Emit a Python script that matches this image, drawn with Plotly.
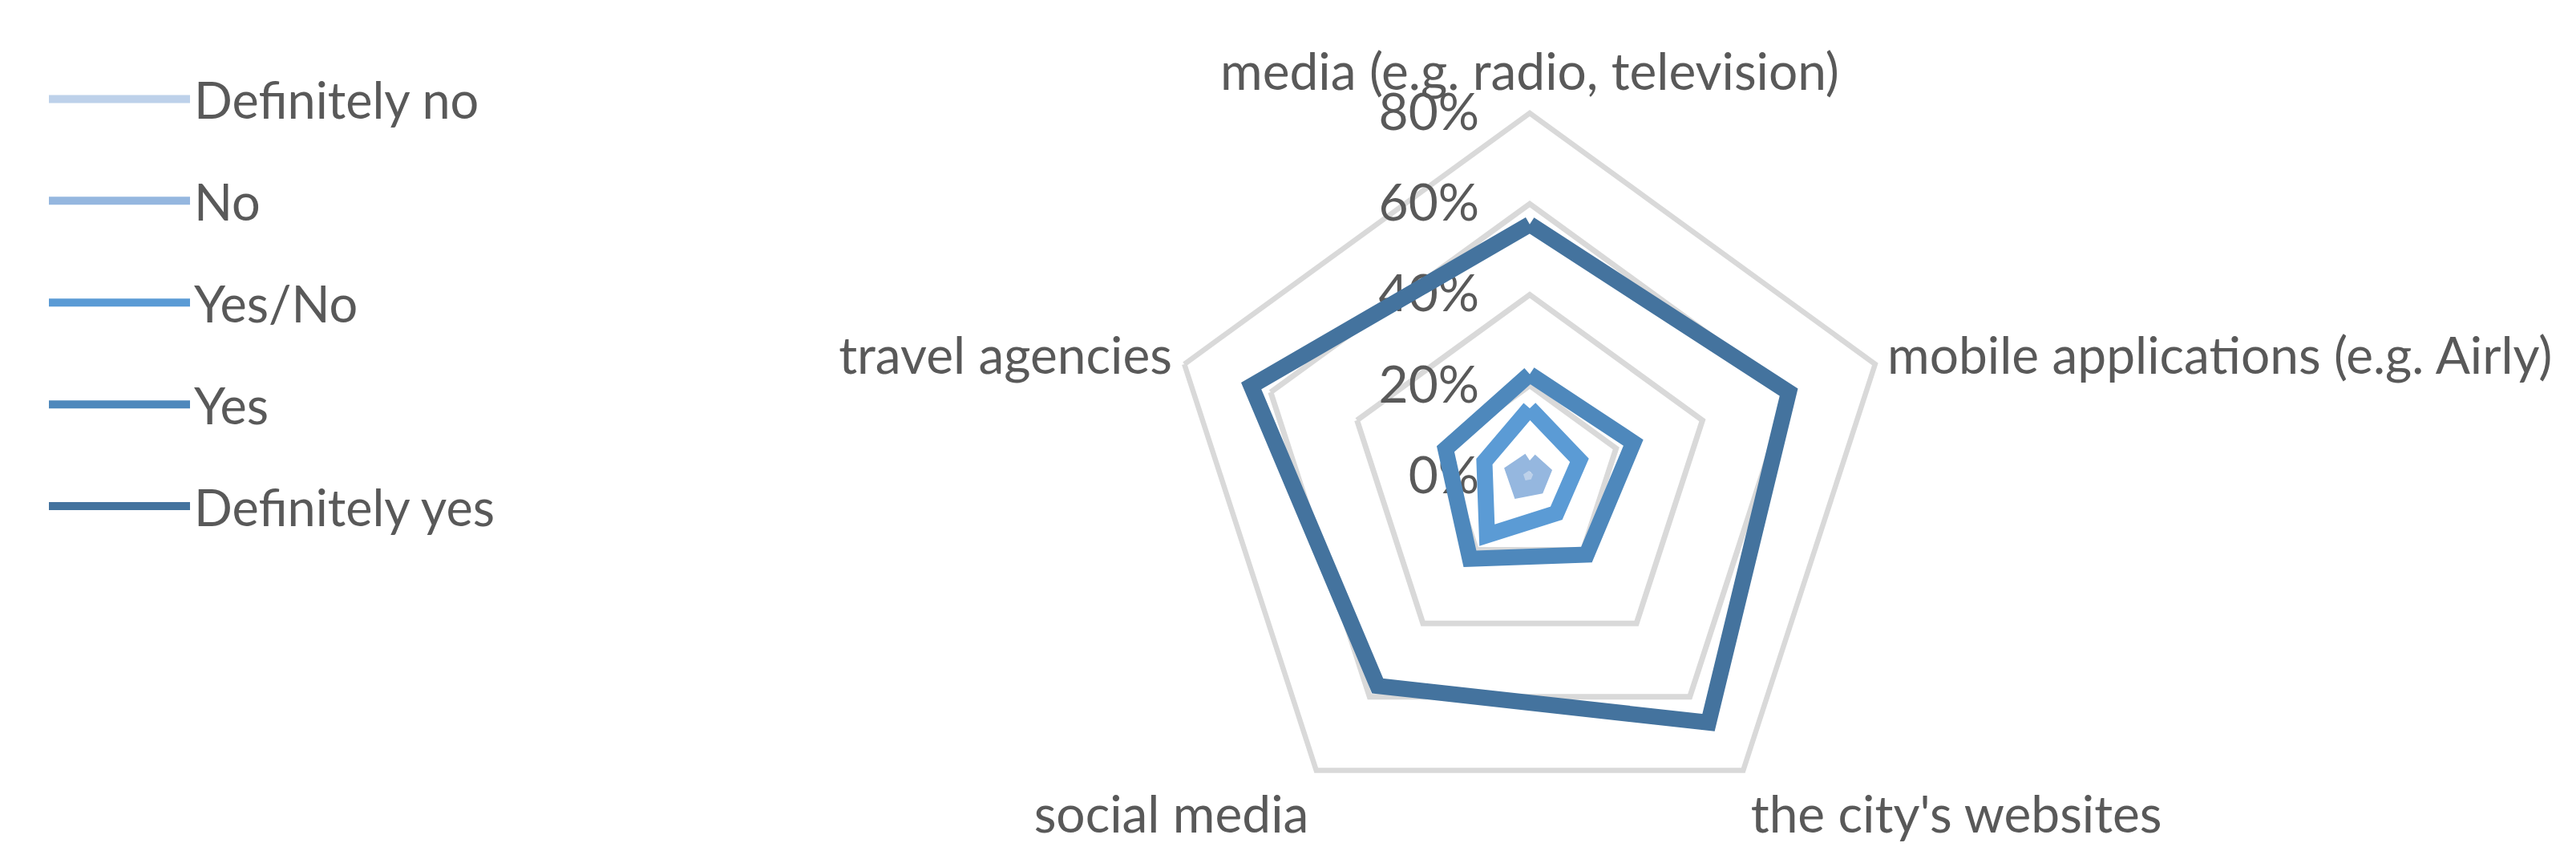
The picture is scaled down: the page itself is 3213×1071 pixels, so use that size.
import plotly.graph_objects as go

categories = ["media (e.g. radio, television)", "mobile applications (e.g. Airly)",
              "the city's websites", "social media", "travel agencies"]
series_names = ["Definitely no", "No", "Yes/No", "Yes", "Definitely yes"]
definitely_no = [0.6, 0.4, 0.5, 0.6, 0.5]
no = [3.5, 3.0, 2.7, 3.6, 3.7]
yes_no = [15.0, 11.5, 10.0, 16.0, 10.5]
yes = [22.5, 24.0, 21.3, 22.4, 19.5]
definitely_yes = [55.5, 60.0, 67.0, 57.0, 64.5]
radial_ticks = [0, 20, 40, 60, 80]
radial_tick_labels = ["0%", "20%", "40%", "60%", "80%"]

colors = ["#BDD1EA", "#95B7DF", "#5B9BD5", "#4E88BC", "#44739E"]
values = [definitely_no, no, yes_no, yes, definitely_yes]

FONT = "Lato"
TXT = "#595959"
GRID = "#D9D9D9"

fig = go.Figure()
for name, vals, col in zip(series_names, values, colors):
    fig.add_trace(go.Scatterpolar(
        r=list(vals) + [vals[0]],
        theta=categories + [categories[0]],
        mode="lines",
        name=name,
        legendgroup=name,
        line=dict(color=col, width=20),
    ))

W, H = 3213, 1071
cx, cy, R = 1900, 586, 453
fig.update_layout(
    width=W, height=H,
    margin=dict(l=0, r=0, t=0, b=0),
    paper_bgcolor="white",
    plot_bgcolor="white",
    font=dict(family=FONT, color=TXT, size=64),
    polar=dict(
        domain=dict(x=[(cx - R) / W, (cx + R) / W], y=[(H - cy - R) / H, (H - cy + R) / H]),
        bgcolor="white",
        gridshape="linear",
        radialaxis=dict(
            range=[0, 80], tickvals=radial_ticks, ticktext=radial_tick_labels,
            angle=90, side="counterclockwise", tickangle=90,
            showline=False, ticks="outside", ticklen=40, tickcolor="rgba(0,0,0,0)",
            showgrid=True, gridcolor=GRID, gridwidth=6.5,
            tickfont=dict(family=FONT, size=64, color=TXT), layer="below traces",
        ),
        angularaxis=dict(
            rotation=90, direction="clockwise",
            showgrid=False, showline=True, linecolor=GRID, linewidth=6.5,
            ticks="", tickfont=dict(family=FONT, size=64, color=TXT), layer="below traces",
        ),
    ),
    legend=dict(
        x=48 / W, y=1 - 68 / H, xanchor="left", yanchor="top",
        font=dict(family=FONT, size=63, color=TXT),
        traceorder="grouped", tracegroupgap=42, itemwidth=176,
        bgcolor="rgba(0,0,0,0)",
    ),
    showlegend=True,
)

fig.write_html("out.html")
